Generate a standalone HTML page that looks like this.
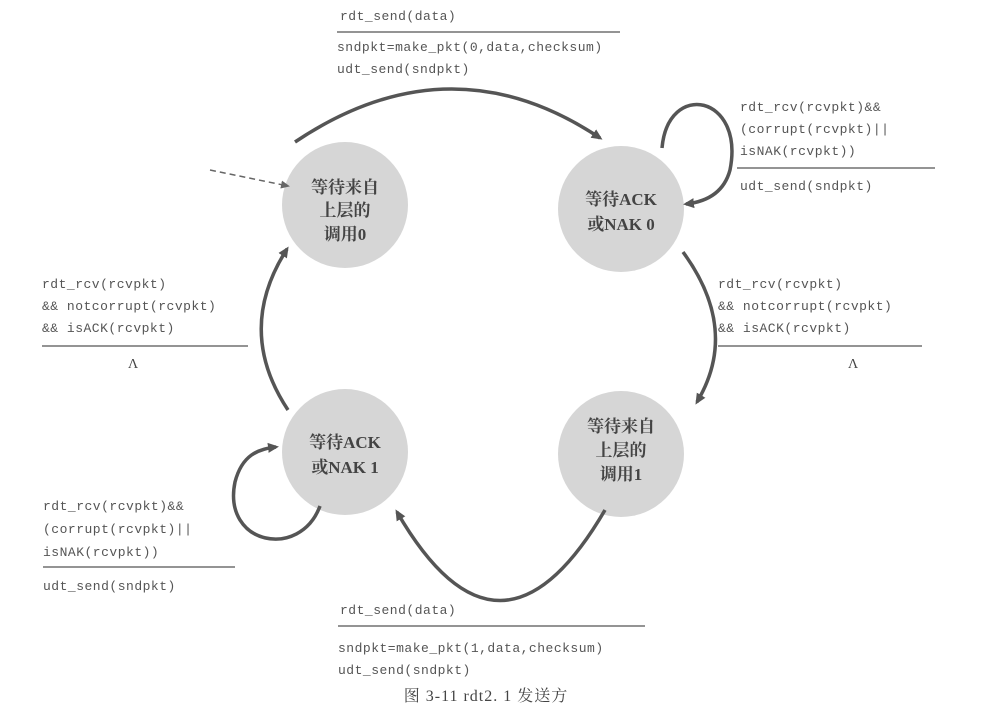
<!DOCTYPE html>
<html><head><meta charset="utf-8"><style>
html,body{margin:0;padding:0;background:#fff;}
svg{display:block}
.m{font-family:"Liberation Mono",monospace;font-size:13px;fill:#555;letter-spacing:0.5px;}
.c{font-family:"Liberation Serif","Noto Serif CJK SC",serif;font-size:17px;font-weight:bold;fill:#444;text-anchor:middle;}
</style></head><body>
<svg width="985" height="717" viewBox="0 0 985 717" xmlns="http://www.w3.org/2000/svg">
<defs>
<marker id="a" markerWidth="12" markerHeight="12" refX="8" refY="6" orient="auto" markerUnits="userSpaceOnUse">
<path d="M0,1 L11,6 L0,11 z" fill="#555"/></marker>
<marker id="d" markerWidth="10" markerHeight="10" refX="7" refY="5" orient="auto" markerUnits="userSpaceOnUse">
<path d="M0,1 L9,5 L0,9 z" fill="#666"/></marker>
</defs>
<g fill="#d6d6d6">
<circle cx="345" cy="205" r="63"/>
<circle cx="621" cy="209" r="63"/>
<circle cx="345" cy="452" r="63"/>
<circle cx="621" cy="454" r="63"/>
</g>
<g stroke="#555" stroke-width="3.5" fill="none">
<path d="M295 142 Q450 38 600 138" marker-end="url(#a)"/>
<path d="M683 252 Q740 330 697 402" marker-end="url(#a)"/>
<path d="M605 510 Q500 690 397 512" marker-end="url(#a)"/>
<path d="M288 410 Q235 330 287 249" marker-end="url(#a)"/>
<path d="M662 148 C668 80 745 95 730 170 Q722 200 686 204" marker-end="url(#a)"/>
<path d="M320 506 C300 560 222 545 235 482 C242 455 258 449 276 447" marker-end="url(#a)"/>
</g>
<path d="M210 170 L288 186" stroke="#666" stroke-width="1.5" stroke-dasharray="6,4" fill="none" marker-end="url(#d)"/>
<text class="c" x="345" y="193">等待来自</text>
<text class="c" x="345" y="216">上层的</text>
<text class="c" x="345" y="240">调用0</text>
<text class="c" x="621" y="205">等待ACK</text>
<text class="c" x="621" y="230">或NAK 0</text>
<text class="c" x="345" y="448">等待ACK</text>
<text class="c" x="345" y="473">或NAK 1</text>
<text class="c" x="621" y="432">等待来自</text>
<text class="c" x="621" y="456">上层的</text>
<text class="c" x="621" y="480">调用1</text>
<g stroke="#555" stroke-width="1.3">
<line x1="337" y1="32" x2="620" y2="32"/>
<line x1="737" y1="168" x2="935" y2="168"/>
<line x1="718" y1="346" x2="922" y2="346"/>
<line x1="42" y1="346" x2="248" y2="346"/>
<line x1="43" y1="567" x2="235" y2="567"/>
<line x1="338" y1="626" x2="645" y2="626"/>
</g>
<text class="m" x="340" y="20">rdt_send(data)</text>
<text class="m" x="337" y="51">sndpkt=make_pkt(0,data,checksum)</text>
<text class="m" x="337" y="73">udt_send(sndpkt)</text>
<text class="m" x="740" y="111">rdt_rcv(rcvpkt)&amp;&amp;</text>
<text class="m" x="740" y="133">(corrupt(rcvpkt)||</text>
<text class="m" x="740" y="155">isNAK(rcvpkt))</text>
<text class="m" x="740" y="190">udt_send(sndpkt)</text>
<text class="m" x="718" y="288">rdt_rcv(rcvpkt)</text>
<text class="m" x="718" y="310">&amp;&amp; notcorrupt(rcvpkt)</text>
<text class="m" x="718" y="332">&amp;&amp; isACK(rcvpkt)</text>
<text x="848" y="368" style="font-family:'Liberation Serif',serif;font-size:14px;fill:#444">Λ</text>
<text class="m" x="42" y="288">rdt_rcv(rcvpkt)</text>
<text class="m" x="42" y="310">&amp;&amp; notcorrupt(rcvpkt)</text>
<text class="m" x="42" y="332">&amp;&amp; isACK(rcvpkt)</text>
<text x="128" y="368" style="font-family:'Liberation Serif',serif;font-size:14px;fill:#444">Λ</text>
<text class="m" x="43" y="510">rdt_rcv(rcvpkt)&amp;&amp;</text>
<text class="m" x="43" y="533">(corrupt(rcvpkt)||</text>
<text class="m" x="43" y="556">isNAK(rcvpkt))</text>
<text class="m" x="43" y="590">udt_send(sndpkt)</text>
<text class="m" x="340" y="614">rdt_send(data)</text>
<text class="m" x="338" y="652">sndpkt=make_pkt(1,data,checksum)</text>
<text class="m" x="338" y="674">udt_send(sndpkt)</text>
<text x="486" y="701" text-anchor="middle" style="font-family:'Liberation Serif','Noto Serif CJK SC',serif;font-size:16px;fill:#444;letter-spacing:1px">图 3-11  rdt2. 1 发送方</text>
</svg>
</body></html>
